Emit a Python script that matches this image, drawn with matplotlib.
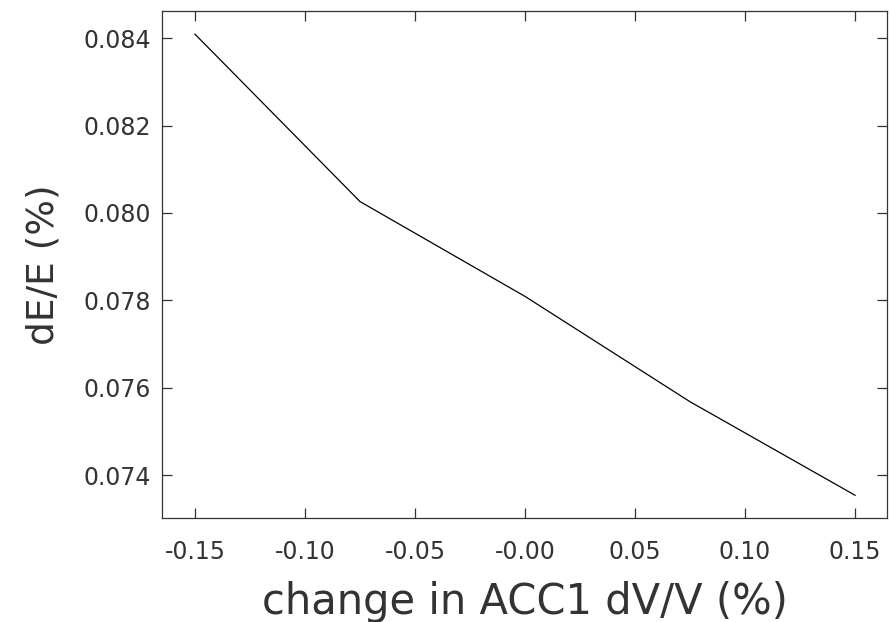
import matplotlib
matplotlib.use("Agg")
from matplotlib import pyplot as plt

# change in ACC1 voltage (%) vs energy spread (%)
dv = [-0.15, -0.075, 0.0, 0.075, 0.15]
de = [0.08409, 0.08026, 0.07809, 0.07568, 0.07354]
xticks = [-0.15, -0.10, -0.05, 0.0, 0.05, 0.10, 0.15]
xlabels = ["-0.15", "-0.10", "-0.05", "-0.00", "0.05", "0.10", "0.15"]
yticks = [0.074, 0.076, 0.078, 0.080, 0.082, 0.084]
ylabels = ["0.074", "0.076", "0.078", "0.080", "0.082", "0.084"]

plt.rcParams['font.family'] = ['DejaVu Sans']
fig = plt.figure(figsize=(8.9, 6.22), dpi=100)
ax = fig.add_axes([0.182, 0.1672, 0.8146, 0.8151])
ax.plot(dv, de, color='black', lw=0.9)

ax.set_xlim(-0.165, 0.1645)
ax.set_ylim(0.07302, 0.08462)
ax.set_xticks(xticks)
ax.set_xticklabels(xlabels)
ax.set_yticks(yticks)
ax.set_yticklabels(ylabels)
ax.tick_params(direction='in', length=7, width=0.9, top=True, right=True,
               labelsize=17, colors='#333333')
ax.tick_params(axis='x', pad=16)
ax.tick_params(axis='y', pad=8)
for s in ax.spines.values():
    s.set_linewidth(0.9)
    s.set_color('#333333')

ax.set_xlabel('change in ACC1 dV/V (%)', fontsize=30, color='#333333', labelpad=12)
ax.set_ylabel('dE/E (%)', fontsize=27, color='#333333', labelpad=16)

plt.savefig('out.png', dpi=100)
